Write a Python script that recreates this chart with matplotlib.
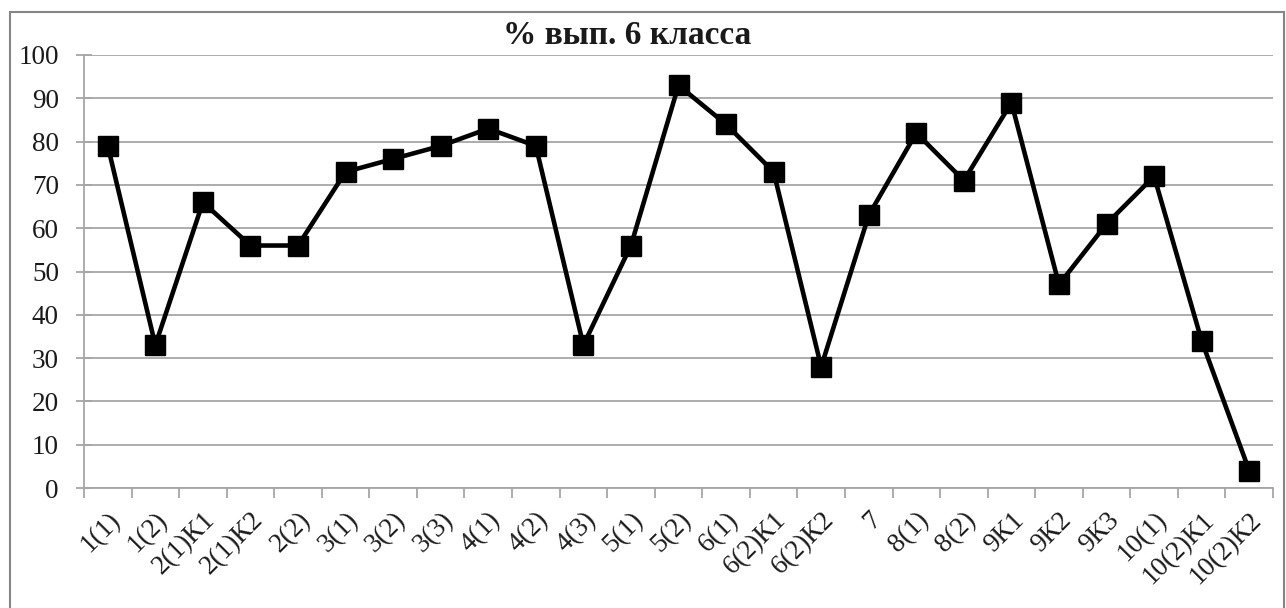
import matplotlib
matplotlib.use("Agg")
import matplotlib.pyplot as plt
from matplotlib.patches import Rectangle
import numpy as np

categories = ["1(1)", "1(2)", "2(1)К1", "2(1)К2", "2(2)", "3(1)", "3(2)", "3(3)",
              "4(1)", "4(2)", "4(3)", "5(1)", "5(2)", "6(1)", "6(2)К1", "6(2)К2",
              "7", "8(1)", "8(2)", "9К1", "9К2", "9К3", "10(1)", "10(2)К1", "10(2)К2"]
values = [79, 33, 66, 56, 56, 73, 76, 79, 83, 79, 33, 56, 93, 84, 73, 28,
          63, 82, 71, 89, 47, 61, 72, 34, 4]
yticks = [0, 10, 20, 30, 40, 50, 60, 70, 80, 90, 100]
title = "% вып. 6 класса"

plt.rcParams['font.family'] = ['Liberation Serif', 'DejaVu Serif']

fig = plt.figure(figsize=(12.86, 6.08), dpi=100)
ax = fig.add_axes([84/1286, 1-488/608, (1273-84)/1286, (488-55)/608])

x = np.arange(len(categories))
ax.plot(x, values, color='black', linewidth=3.3, marker='s', markersize=15,
        markerfacecolor='black', markeredgecolor='black', zorder=3, clip_on=False)

ax.set_xlim(-0.5, len(categories) - 0.5)
ax.set_ylim(0, 100)
ax.set_yticks(yticks)
ax.set_yticklabels([str(v) for v in yticks], fontsize=19.5, color='#1a1a1a')
ax.yaxis.grid(True, color='#a6a6a6', linewidth=1.3)
ax.set_axisbelow(True)

ax.set_xticks(np.arange(len(categories) + 1) - 0.5)
ax.set_xticklabels([])
ax.set_xticks(x, minor=True)
ax.set_xticklabels(categories, minor=True, rotation=45, ha='right',
                   rotation_mode='anchor', fontsize=19.5, color='#1a1a1a')
ax.tick_params(axis='x', which='minor', length=0, pad=14)
ax.tick_params(axis='x', which='major', length=7, color='#a6a6a6', width=1.3)
ax.tick_params(axis='y', direction='inout', length=12, color='#a6a6a6', width=1.3, pad=12)

for s in ['top', 'right']:
    ax.spines[s].set_visible(False)
for s in ['left', 'bottom']:
    ax.spines[s].set_color('#a6a6a6')
    ax.spines[s].set_linewidth(1.3)

fig.text(627/1286, 1 - 35/608, title, fontsize=24,
         fontweight='bold', ha='center', va='center', color='#1a1a1a')

fig.patches.append(Rectangle((10/1286, -0.05), 1274/1286, 1 - 12/608 + 0.05,
                             transform=fig.transFigure, fill=False,
                             edgecolor='#868686', linewidth=1.5))

fig.savefig('out.png', dpi=100)
